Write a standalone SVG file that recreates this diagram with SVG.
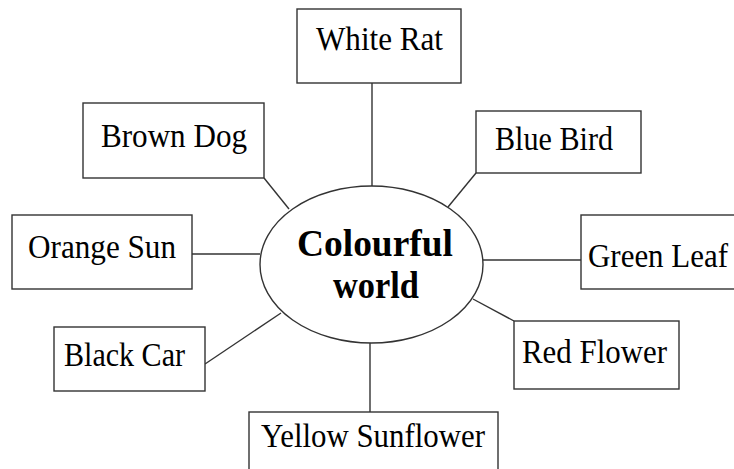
<svg xmlns="http://www.w3.org/2000/svg" width="734" height="469" viewBox="0 0 734 469">
<style>
.box{fill:#fff;stroke:#333;stroke-width:1.4}
.lbl{font-family:"Liberation Serif","Times New Roman",serif;font-size:34px;fill:#000}
.ctr{font-family:"Liberation Serif","Times New Roman",serif;font-size:38px;font-weight:bold;fill:#000}
.conn line{stroke:#333;stroke-width:1.4}
</style>
<rect width="734" height="469" fill="#fff"/>
<g id="connectors" class="conn">
<line x1="372" y1="83" x2="372" y2="186"/>
<line x1="264" y1="178" x2="289" y2="209"/>
<line x1="192" y1="254" x2="260" y2="254"/>
<line x1="476" y1="173" x2="448" y2="207"/>
<line x1="483" y1="260" x2="581" y2="260"/>
<line x1="205" y1="364" x2="281" y2="313"/>
<line x1="370" y1="343" x2="370" y2="412"/>
<line x1="514" y1="321" x2="473" y2="299"/>
</g>
<g id="center">
<ellipse cx="371.5" cy="264.5" rx="111.5" ry="78.5" fill="#fff" stroke="#333" stroke-width="1.4"/>
<text class="ctr" x="297" y="256" textLength="156" lengthAdjust="spacingAndGlyphs">Colourful</text>
<text class="ctr" x="333" y="298" textLength="86" lengthAdjust="spacingAndGlyphs">world</text>
</g>
<g id="white-rat"><rect class="box" x="297" y="9" width="164" height="74"/><text class="lbl" x="316" y="50" textLength="127" lengthAdjust="spacingAndGlyphs">White Rat</text></g>
<g id="brown-dog"><rect class="box" x="83" y="103" width="181" height="75"/><text class="lbl" x="101" y="147" textLength="146" lengthAdjust="spacingAndGlyphs">Brown Dog</text></g>
<g id="orange-sun"><rect class="box" x="12" y="215" width="180" height="74"/><text class="lbl" x="28" y="258" textLength="148" lengthAdjust="spacingAndGlyphs">Orange Sun</text></g>
<g id="blue-bird"><rect class="box" x="476" y="111" width="165" height="62"/><text class="lbl" x="495" y="150" textLength="118" lengthAdjust="spacingAndGlyphs">Blue Bird</text></g>
<g id="green-leaf"><rect class="box" x="581" y="215" width="160" height="74"/><text class="lbl" x="588" y="267" textLength="140" lengthAdjust="spacingAndGlyphs">Green Leaf</text></g>
<g id="black-car"><rect class="box" x="54" y="327" width="151" height="64"/><text class="lbl" x="64" y="366" textLength="121" lengthAdjust="spacingAndGlyphs">Black Car</text></g>
<g id="yellow-sunflower"><rect class="box" x="249" y="412" width="249" height="70"/><text class="lbl" x="261" y="447" textLength="224" lengthAdjust="spacingAndGlyphs">Yellow Sunflower</text></g>
<g id="red-flower"><rect class="box" x="514" y="321" width="165" height="68"/><text class="lbl" x="522" y="363" textLength="145" lengthAdjust="spacingAndGlyphs">Red Flower</text></g>
</svg>
